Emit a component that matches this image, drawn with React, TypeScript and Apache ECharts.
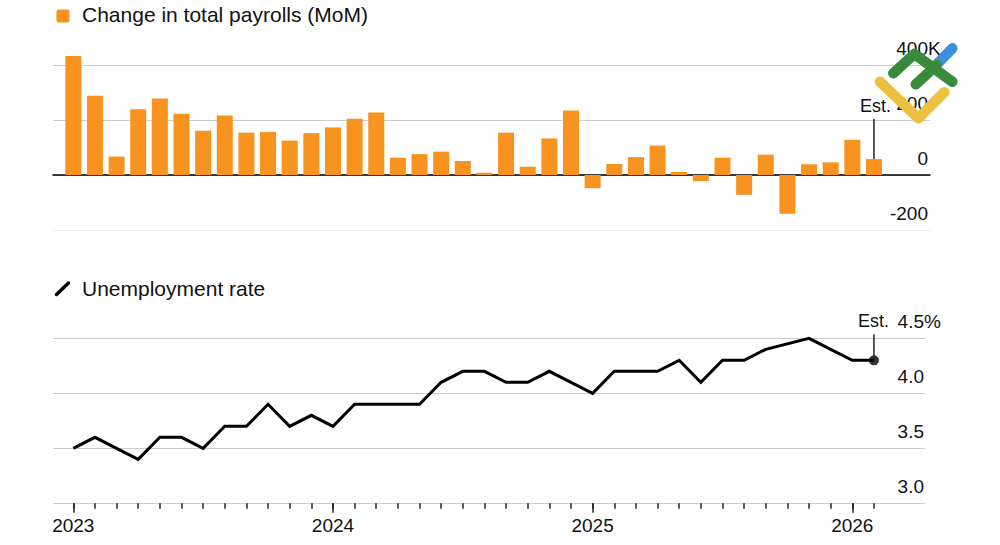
import React, { useEffect, useRef } from "react";
import * as echarts from "echarts";

const months = [
  "2023-01", "2023-02", "2023-03", "2023-04", "2023-05", "2023-06", "2023-07", "2023-08", "2023-09", "2023-10", "2023-11", "2023-12",
  "2024-01", "2024-02", "2024-03", "2024-04", "2024-05", "2024-06", "2024-07", "2024-08", "2024-09", "2024-10", "2024-11", "2024-12",
  "2025-01", "2025-02", "2025-03", "2025-04", "2025-05", "2025-06", "2025-07", "2025-08", "2025-09", "2025-10", "2025-11", "2025-12",
  "2026-01", "2026-02",
];

// Change in total payrolls, thousands (MoM)
const payrolls = [
  433, 288, 67, 239, 278, 223, 161, 216, 154, 156, 125, 152,
  173, 205, 227, 63, 76, 85, 51, 8, 154, 30, 133, 235,
  -48, 40, 65, 107, 11, -22, 63, -72, 74, -141, 39, 46,
  128, 58,
];

// Unemployment rate, % (Oct 2025 missing)
const unemployment = [
  3.5, 3.6, 3.5, 3.4, 3.6, 3.6, 3.5, 3.7, 3.7, 3.9, 3.7, 3.8,
  3.7, 3.9, 3.9, 3.9, 3.9, 4.1, 4.2, 4.2, 4.1, 4.1, 4.2, 4.1,
  4.0, 4.2, 4.2, 4.2, 4.3, 4.1, 4.3, 4.3, 4.4, null, 4.5, 4.4,
  4.3, 4.3,
];

const yearTickIndex = [0, 12, 24, 36];
const yearLabels = ["2023", "2024", "2025", "2026"];
const payrollTicks = { min: -200, max: 400, interval: 200 };
const rateTicks = { min: 3.0, max: 4.5, interval: 0.5 };

const FONT = '"Liberation Sans", Arial, Helvetica, sans-serif';
const ORANGE = "#f7931e";
const GRID_COLOR = "#cccccc";

const X_MIN = -0.938;
const X_MAX_TOP = 39.59;
const X_MAX_BOT = 39.36;

export default function App() {
  const ref = useRef<HTMLDivElement>(null);

  useEffect(() => {
    if (!ref.current) return;
    const chart = echarts.init(ref.current, null, { renderer: "svg" });
    const last = months.length - 1;
    const monthIdx = months.map((_, i) => i);

    const option: any = {
      animation: false,
      backgroundColor: "#ffffff",
      textStyle: { fontFamily: FONT },
      grid: [
        { left: 53, top: 65, width: 877, height: 165, containLabel: false },
        { left: 53, top: 338.3, width: 872, height: 165, containLabel: false },
      ],
      xAxis: [
        {
          gridIndex: 0,
          type: "value",
          min: X_MIN,
          max: X_MAX_TOP,
          axisLine: { show: true, onZero: true, lineStyle: { color: "#000", width: 1.5 } },
          axisTick: { show: false },
          axisLabel: { show: false },
          splitLine: { show: false },
        },
        {
          gridIndex: 1,
          type: "value",
          position: "bottom",
          min: X_MIN,
          max: X_MAX_BOT,
          axisLine: { show: false, onZero: false },
          axisTick: {
            show: true,
            customValues: monthIdx,
            length: 5.5,
            lineStyle: { color: "#222", width: 1.5 },
          },
          axisLabel: { show: false },
          splitLine: { show: false },
        },
        {
          gridIndex: 1,
          type: "value",
          position: "bottom",
          min: X_MIN,
          max: X_MAX_BOT,
          axisLine: { show: false, onZero: false },
          axisTick: {
            show: true,
            customValues: yearTickIndex,
            length: 9.5,
            lineStyle: { color: "#222", width: 1.5 },
          },
          axisLabel: {
            show: true,
            customValues: yearTickIndex,
            formatter: (v: number) => yearLabels[yearTickIndex.indexOf(Math.round(v))] ?? "",
            margin: 13,
            fontSize: 19,
            color: "#111",
            fontFamily: FONT,
          },
          splitLine: { show: false },
        },
      ],
      yAxis: [
        {
          gridIndex: 0,
          type: "value",
          position: "right",
          min: payrollTicks.min,
          max: payrollTicks.max,
          interval: payrollTicks.interval,
          axisLine: { show: false },
          axisTick: { show: false },
          splitLine: {
            show: true,
            lineStyle: { color: ["#ededed", GRID_COLOR, GRID_COLOR, GRID_COLOR], width: 1 },
          },
          axisLabel: {
            inside: true,
            margin: 2,
            verticalAlign: "bottom",
            padding: [0, 0, 7, 0],
            fontSize: 19,
            color: "#111",
            fontFamily: FONT,
            formatter: (v: number) => String(v),
          },
        },
        {
          gridIndex: 1,
          type: "value",
          position: "right",
          min: rateTicks.min,
          max: rateTicks.max,
          interval: rateTicks.interval,
          axisLine: { show: false },
          axisTick: { show: false },
          splitLine: { show: true, lineStyle: { color: GRID_COLOR, width: 1 } },
          axisLabel: {
            inside: true,
            margin: 1,
            verticalAlign: "bottom",
            padding: [0, 0, 7, 0],
            fontSize: 19,
            color: "#111",
            fontFamily: FONT,
            formatter: (v: number) => v.toFixed(1),
          },
        },
      ],
      series: [
        {
          name: "Change in total payrolls (MoM)",
          type: "bar",
          xAxisIndex: 0,
          yAxisIndex: 0,
          barWidth: 16,
          clip: false,
          itemStyle: { color: ORANGE },
          data: payrolls.map((v, i) => [i, v]),
          z: 3,
        },
        {
          name: "Unemployment rate",
          type: "line",
          xAxisIndex: 1,
          yAxisIndex: 1,
          connectNulls: true,
          showSymbol: false,
          symbol: "none",
          clip: false,
          lineStyle: { color: "#000", width: 3, join: "miter" },
          data: unemployment.map((v, i) => [i, v]),
          z: 3,
        },
        {
          type: "scatter",
          xAxisIndex: 1,
          yAxisIndex: 1,
          symbolSize: 10,
          clip: false,
          itemStyle: { color: "#000" },
          data: [[last, unemployment[last]]],
          z: 4,
        },
      ],
    };

    chart.setOption(option);

    const pTop = chart.convertToPixel({ xAxisIndex: 0, yAxisIndex: 0 }, [last, payrolls[last]]) as number[];
    const pBot = chart.convertToPixel({ xAxisIndex: 1, yAxisIndex: 1 }, [last, unemployment[last] as number]) as number[];
    const topRight = chart.convertToPixel({ xAxisIndex: 0 }, X_MAX_TOP) as number;
    const botRight = chart.convertToPixel({ xAxisIndex: 1 }, X_MAX_BOT) as number;
    const y400 = chart.convertToPixel({ yAxisIndex: 0 }, payrollTicks.max) as number;
    const y45 = chart.convertToPixel({ yAxisIndex: 1 }, rateTicks.max) as number;

    const estTopLineTop = pTop[1] - 40;
    const estBotLineTop = pBot[1] - 26;

    const txt = (text: string, x: number, y: number, size: number, align = "left", vAlign = "middle", fill = "#111") => ({
      type: "text",
      x,
      y,
      z: 20,
      style: {
        text,
        fill,
        font: `${size}px ${FONT}`,
        align,
        verticalAlign: vAlign,
        textAlign: align,
        textVerticalAlign: vAlign,
      },
    });

    const logoStroke = (points: number[][], color: string) => ({
      type: "polyline",
      z: 30,
      shape: { points },
      style: { stroke: color, lineWidth: 10.5, lineCap: "round", lineJoin: "round", fill: "none" },
    });

    chart.setOption({
      graphic: [
        // legend 1
        { type: "rect", z: 20, shape: { x: 56.5, y: 9.5, width: 13, height: 13, r: 2 }, style: { fill: ORANGE } },
        txt("Change in total payrolls (MoM)", 82, 14.8, 21),
        // legend 2
        {
          type: "line",
          z: 20,
          shape: { x1: 56.5, y1: 294.5, x2: 68.5, y2: 283 },
          style: { stroke: "#000", lineWidth: 3.5, lineCap: "round" },
        },
        txt("Unemployment rate", 82, 288.3, 21),
        // units
        txt("K", topRight - 2, y400 - 16.5, 19, "left"),
        txt("%", botRight - 1, y45 - 16.5, 19, "left"),
        // Est. annotations
        {
          type: "line",
          z: 20,
          shape: { x1: pTop[0], y1: estTopLineTop, x2: pTop[0], y2: pTop[1] },
          style: { stroke: "#222", lineWidth: 1.5 },
        },
        txt("Est.", pTop[0] + 1.5, estTopLineTop - 13.4, 18, "center"),
        {
          type: "line",
          z: 20,
          shape: { x1: pBot[0], y1: estBotLineTop, x2: pBot[0], y2: pBot[1] },
          style: { stroke: "#222", lineWidth: 1.5 },
        },
        txt("Est.", pBot[0] - 0.5, estBotLineTop - 13.4, 18, "center"),
        // watermark logo
        logoStroke([[937.7, 63.3], [952.3, 48.3]], "#3b8fdc"),
        logoStroke([[880, 81.7], [918.3, 118.3], [944.3, 92.3]], "#ecc13f"),
        logoStroke([[893.3, 73.3], [914.3, 54], [952.3, 81.7]], "#3a8a3b"),
        logoStroke([[915.7, 84.3], [936.7, 65]], "#3a8a3b"),
      ],
    });

    return () => chart.dispose();
  }, []);

  return (
    <div
      ref={ref}
      style={{ position: "fixed", left: 0, top: 0, width: 1000, height: 545, background: "#fff" }}
    />
  );
}
